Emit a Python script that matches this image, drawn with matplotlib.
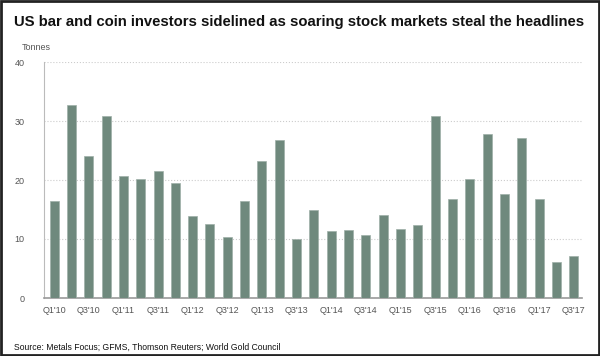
import numpy as np
import matplotlib.pyplot as plt
from matplotlib.patches import Rectangle

# Quarterly US bar and coin demand, tonnes
quarters = [f"Q{q}'{y}" for y in range(10, 18) for q in (1, 2, 3, 4)][:31]
tonnes = [16.4, 32.7, 24.0, 30.9, 20.6, 20.2, 21.6, 19.5,
          13.9, 12.5, 10.3, 16.4, 23.3, 26.7, 10.0, 15.0,
          11.4, 11.6, 10.7, 14.1, 11.7, 12.3, 30.8, 16.7,
          20.1, 27.8, 17.7, 27.1, 16.8, 6.1, 7.1]
yticks = [0, 10, 20, 30, 40]

plt.rcParams['font.family'] = ['Liberation Sans', 'DejaVu Sans']

fig = plt.figure(figsize=(6.0, 3.56), dpi=100)
ax = fig.add_axes([44 / 600, 58 / 356, 538 / 600, 236 / 356])

x = np.arange(len(tonnes))
ax.bar(x, tonnes, width=0.52, color='#6f897d', edgecolor='#9fb0a8',
       linewidth=0.5, zorder=3)

ax.set_ylim(0, 40)
ax.set_xlim(-0.58, len(tonnes) - 0.53)
ax.set_yticks(yticks)
ax.set_yticklabels([str(v) for v in yticks])
ax.set_xticks(x[::2])
ax.set_xticklabels(quarters[::2])
ax.tick_params(length=0, labelsize=6.5, colors='#555555', pad=6)
ax.tick_params(axis='y', pad=14)

ax.yaxis.grid(True, color='#cccccc', linestyle=':', linewidth=0.8, zorder=0)
for s in ['top', 'right']:
    ax.spines[s].set_visible(False)
ax.spines['left'].set_color('#bbbbbb')
ax.spines['left'].set_linewidth(0.8)
ax.spines['bottom'].set_color('#999999')
ax.spines['bottom'].set_linewidth(1.2)

title = fig.text(14 / 600, 1 - 22 / 356,
                 'US bar and coin investors sidelined as soaring stock markets steal the headlines',
                 fontsize=12, fontweight='bold', va='center', ha='left', color='#111111')
# shrink title so it spans about 571 px like the original
r = fig.canvas.get_renderer()
w = title.get_window_extent(renderer=r).width
title.set_fontsize(12 * 571 / w)

fig.text(22 / 600, 1 - 47 / 356, 'Tonnes', fontsize=6.5, color='#555555',
         va='center', ha='left')
fig.text(14 / 600, 1 - 347 / 356,
         'Source: Metals Focus; GFMS, Thomson Reuters; World Gold Council',
         fontsize=6.2, color='#111111', va='center', ha='left')

fig.patches.append(Rectangle((0.002, 0.003), 0.996, 0.994, transform=fig.transFigure,
                             fill=False, edgecolor='#222222', linewidth=2))

fig.savefig('out.png', dpi=100)
